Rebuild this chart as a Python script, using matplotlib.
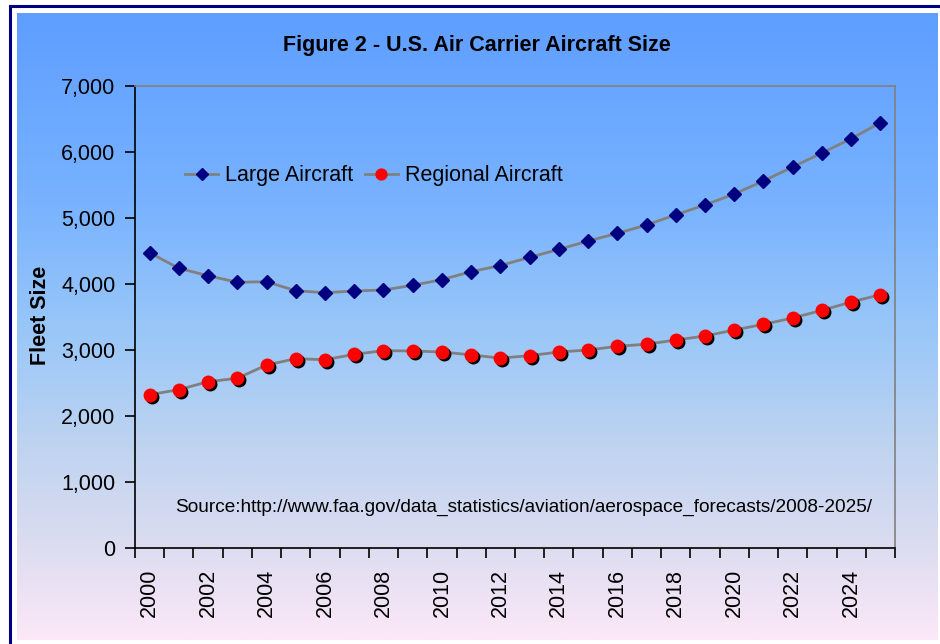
import numpy as np
import matplotlib
matplotlib.use("Agg")
import matplotlib.pyplot as plt
from matplotlib.colors import LinearSegmentedColormap
from matplotlib.transforms import offset_copy
from matplotlib.lines import Line2D

plt.rcParams['font.family'] = ['Liberation Sans', 'DejaVu Sans']

years = list(range(2000, 2026))
large_aircraft = [4474, 4238, 4126, 4026, 4035, 3898, 3868, 3894, 3909, 3980,
                  4066, 4187, 4280, 4404, 4525, 4651, 4768, 4894, 5050, 5197,
                  5364, 5561, 5773, 5985, 6202, 6444]
regional_aircraft = [2323, 2399, 2520, 2571, 2773, 2868, 2853, 2934, 2990, 2985,
                     2970, 2926, 2877, 2914, 2970, 3000, 3056, 3088, 3151, 3212,
                     3303, 3389, 3485, 3601, 3727, 3838]
y_ticks = [0, 1000, 2000, 3000, 4000, 5000, 6000, 7000]
title = "Figure 2 - U.S. Air Carrier Aircraft Size"
source = "Source:http://www.faa.gov/data_statistics/aviation/aerospace_forecasts/2008-2025/"

W, H = 940, 644
fig = plt.figure(figsize=(W / 100, H / 100), dpi=100)
fig.patch.set_facecolor('white')

def fx(px):
    return px / W

def fy(py):
    return 1 - py / H

# gradient chart area
bg = fig.add_axes([fx(17), fy(640), fx(937) - fx(17), fy(13) - fy(640)], zorder=0)
stops = [(0.0, '#5E9EFF'), (0.30, '#78B2FF'), (0.50, '#98C6F8'),
         (0.70, '#C0D4F0'), (0.84, '#DADCF0'), (1.0, '#FCE8F8')]
cmap = LinearSegmentedColormap.from_list('bg', stops)
grad = np.linspace(0, 1, 256).reshape(-1, 1)
bg.imshow(grad, aspect='auto', cmap=cmap, extent=[0, 1, 0, 1], origin='upper')
bg.set_axis_off()

# outer border (left and top visible)
fig.add_artist(Line2D([fx(10), fx(10)], [fy(6), 0], color='#000080', lw=2.2,
                      transform=fig.transFigure))
fig.add_artist(Line2D([fx(10), 1], [fy(6), fy(6)], color='#000080', lw=2.2,
                      transform=fig.transFigure))

ax = fig.add_axes([fx(135), fy(548), fx(895) - fx(135), fy(86) - fy(548)], zorder=1)
ax.patch.set_alpha(0)

x = np.arange(len(years)) + 0.5
ax.plot(x, large_aircraft, color='#808080', lw=2.0, zorder=2)
ax.plot(x, large_aircraft, ls='none', marker='D', ms=7.3, color='#000080',
        mec='#000080', zorder=4)
ax.plot(x, regional_aircraft, color='#808080', lw=2.0, zorder=2)
shadow = offset_copy(ax.transData, fig=fig, x=2, y=-2, units='dots')
ax.plot(x, regional_aircraft, ls='none', marker='o', ms=9.0, color='black',
        mec='black', transform=shadow, zorder=3)
ax.plot(x, regional_aircraft, ls='none', marker='o', ms=9.0, color='#FF0000',
        mec='#FF0000', zorder=4)

ax.set_xlim(0, len(years))
ax.set_ylim(0, 7000)
ax.set_yticks(y_ticks)
ax.set_yticklabels([f"{v:,}" for v in y_ticks], fontsize=15.5)
ax.set_xticks(x[::2])
ax.set_xticklabels([str(y) for y in years[::2]], rotation=90, fontsize=15.5)
ax.set_xticks(np.arange(0, len(years) + 1), minor=True)
ax.tick_params(axis='x', which='major', length=0, pad=15)
ax.tick_params(axis='x', which='minor', length=7, width=1.2, color='black')
ax.tick_params(axis='y', length=7, width=1.2, color='black', pad=7)

for side in ['top', 'right']:
    ax.spines[side].set_color('#808080')
    ax.spines[side].set_linewidth(1.2)
for side in ['left', 'bottom']:
    ax.spines[side].set_color('black')
    ax.spines[side].set_linewidth(1.2)

handles = [
    Line2D([], [], color='#808080', lw=2.0, marker='D', ms=6.5, mfc='#000080', mec='#000080'),
    Line2D([], [], color='#808080', lw=2.0, marker='o', ms=7.8, mfc='#FF0000', mec='#FF0000'),
]
ax.legend(handles, ['Large Aircraft', 'Regional Aircraft'], ncol=2, frameon=False,
          loc='center left', bbox_to_anchor=((185 - 135) / 760, (548 - 176) / 462),
          borderpad=0, borderaxespad=0, handlelength=1.55, handletextpad=0.3,
          columnspacing=0.55, fontsize=15.5)

ax.text((175 - 135) / 760, (548 - 507) / 462, source, transform=ax.transAxes,
        fontsize=13.65, va='center', ha='left')

fig.text(fx(477), fy(45), title, fontsize=15.5, fontweight='bold',
         ha='center', va='center')
fig.text(fx(40), fy(315), 'Fleet Size', fontsize=15.5, fontweight='bold',
         rotation=90, ha='center', va='center')

fig.savefig('out.png', dpi=100)
